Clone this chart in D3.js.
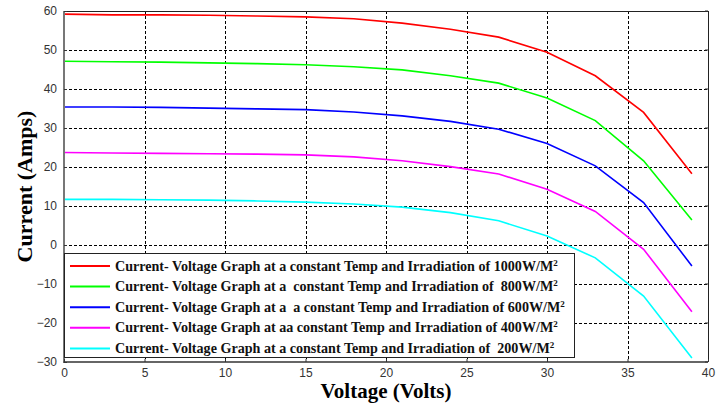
<!DOCTYPE html>
<html>
<head>
<meta charset="utf-8">
<script src="https://cdn.jsdelivr.net/npm/d3@7"></script>
<style>
  body { margin: 0; background: #fff; }
  svg { display: block; }
</style>
</head>
<body>
<div id="chart"></div>
<script>
(function() {
  const W = 728, H = 404
  const margin = {top: 11, right: 20, bottom: 42, left: 64}

  // voltage samples (V)
  const voltage = [0, 3, 6, 9, 12, 15, 18, 21, 24, 27, 30, 33, 36, 39]
  // current (A) per irradiation level
  const i1000 = [59.2, 59.0, 59.0, 58.9, 58.7, 58.5, 58.0, 56.9, 55.3, 53.3, 49.4, 43.4, 34.0, 18.3]
  const i800  = [47.1, 47.0, 46.9, 46.7, 46.5, 46.2, 45.7, 44.9, 43.4, 41.5, 37.7, 31.9, 21.6, 6.4]
  const i600  = [35.4, 35.4, 35.3, 35.1, 34.9, 34.7, 34.1, 33.1, 31.7, 29.7, 26.0, 20.3, 10.9, -5.4]
  const i400  = [23.7, 23.6, 23.5, 23.4, 23.3, 23.1, 22.6, 21.6, 20.1, 18.2, 14.3, 8.6, -1.1, -17.1]
  const i200  = [11.7, 11.7, 11.6, 11.5, 11.3, 11.0, 10.5, 9.7, 8.3, 6.2, 2.3, -3.3, -13.1, -29.0]

  const seriesColors = ["#ff0000", "#00ff00", "#0000ff", "#ff00ff", "#00ffff"]
  const legendLabels = [
    "Current- Voltage Graph at a constant Temp and Irradiation of 1000W/M",
    "Current- Voltage Graph at a  constant Temp and Irradiation of  800W/M",
    "Current- Voltage Graph at a  a constant Temp and Irradiation of 600W/M",
    "Current- Voltage Graph at aa constant Temp and Irradiation of 400W/M",
    "Current- Voltage Graph at a constant Temp and Irradiation of  200W/M"
  ]
  const xTicks = [0, 5, 10, 15, 20, 25, 30, 35, 40]
  const yTicks = [-30, -20, -10, 0, 10, 20, 30, 40, 50, 60]

  const series = [i1000, i800, i600, i400, i200]

  const x = d3.scaleLinear().domain([0, 40]).range([margin.left, W - margin.right])
  const y = d3.scaleLinear().domain([-30, 60]).range([H - margin.bottom, margin.top])

  const svg = d3.select("#chart").append("svg")
      .attr("width", W)
      .attr("height", H)

  // dashed grid
  const grid = svg.append("g")
      .attr("stroke", "#000")
      .attr("stroke-width", 1)
      .attr("stroke-dasharray", "3,2")
  grid.selectAll("line.v")
    .data(xTicks.slice(1, -1))
    .enter().append("line")
      .attr("x1", d => Math.round(x(d)) + 0.5).attr("x2", d => Math.round(x(d)) + 0.5)
      .attr("y1", y(60)).attr("y2", y(-30))
  grid.selectAll("line.h")
    .data(yTicks.slice(1, -1))
    .enter().append("line")
      .attr("y1", d => Math.round(y(d)) + 0.5).attr("y2", d => Math.round(y(d)) + 0.5)
      .attr("x1", x(0)).attr("x2", x(40))

  // curves
  const line = d3.line()
      .x((d, i) => x(voltage[i]))
      .y(d => y(d))
  svg.append("g")
      .attr("fill", "none")
      .attr("stroke-width", 1.6)
    .selectAll("path")
    .data(series)
    .enter().append("path")
      .attr("stroke", (d, i) => seriesColors[i])
      .attr("d", line)

  // frame: top/right thin black, left/bottom thick grey
  svg.append("line")
      .attr("x1", x(0)).attr("x2", x(40))
      .attr("y1", y(60) + 0.5).attr("y2", y(60) + 0.5)
      .attr("stroke", "#222")
  svg.append("line")
      .attr("x1", x(40) + 0.5).attr("x2", x(40) + 0.5)
      .attr("y1", y(60)).attr("y2", y(-30))
      .attr("stroke", "#222")
  svg.append("line")
      .attr("x1", x(0)).attr("x2", x(0))
      .attr("y1", y(60)).attr("y2", y(-30) + 1)
      .attr("stroke", "#777").attr("stroke-width", 2)
  svg.append("line")
      .attr("x1", x(0) - 1).attr("x2", x(40))
      .attr("y1", y(-30)).attr("y2", y(-30))
      .attr("stroke", "#666").attr("stroke-width", 2)

  // axes (labels only, inward ticks)
  const xAxis = d3.axisBottom(x).tickValues(xTicks).tickSizeInner(-3).tickSizeOuter(0).tickPadding(6)
  const yAxis = d3.axisLeft(y).tickValues(yTicks).tickSizeInner(-3).tickSizeOuter(0).tickPadding(7)
  const gx = svg.append("g").attr("transform", `translate(0,${y(-30)})`).call(xAxis)
  const gy = svg.append("g").attr("transform", `translate(${x(0)},0)`).call(yAxis)
  ;[gx, gy].forEach(g => {
    g.select(".domain").remove()
    g.selectAll("line").attr("stroke", "#333")
    g.selectAll("text")
        .attr("font-family", "Liberation Sans, Arial, sans-serif")
        .attr("font-size", 12)
        .attr("fill", "#333")
  })
  // right-side inward ticks
  svg.append("g").selectAll("line")
    .data(yTicks)
    .enter().append("line")
      .attr("x1", x(40) - 3).attr("x2", x(40))
      .attr("y1", d => y(d)).attr("y2", d => y(d))
      .attr("stroke", "#333")

  // legend
  const lg = svg.append("g")
  const lx0 = x(0), ly0 = 253, lw = 510, lh = 104
  lg.append("rect")
      .attr("x", lx0 + 0.5).attr("y", ly0 + 0.5)
      .attr("width", lw).attr("height", lh)
      .attr("fill", "#fff").attr("stroke", "#222")
  const row = lg.selectAll("g")
    .data(legendLabels)
    .enter().append("g")
      .attr("transform", (d, i) => `translate(${lx0}, ${ly0 + 13 + i * 20.6})`)
  row.append("line")
      .attr("x1", 6).attr("x2", 46)
      .attr("stroke", (d, i) => seriesColors[i])
      .attr("stroke-width", 2)
  const txt = row.append("text")
      .attr("x", 51).attr("y", 4.5)
      .attr("font-family", "Liberation Serif, Times New Roman, serif")
      .attr("font-weight", "bold")
      .attr("font-size", 14.1)
      .attr("fill", "#111")
      .style("white-space", "pre")
  txt.append("tspan").text(d => d)
  txt.append("tspan")
      .attr("dy", -5)
      .attr("font-size", 9)
      .text("2")

  // axis titles
  svg.append("text")
      .attr("x", (x(0) + x(40)) / 2)
      .attr("y", 398)
      .attr("text-anchor", "middle")
      .attr("font-family", "Liberation Serif, Times New Roman, serif")
      .attr("font-weight", "bold")
      .attr("font-size", 21)
      .text("Voltage (Volts)")
  svg.append("text")
      .attr("transform", `translate(32, ${(y(60) + y(-30)) / 2}) rotate(-90)`)
      .attr("text-anchor", "middle")
      .attr("font-family", "Liberation Serif, Times New Roman, serif")
      .attr("font-weight", "bold")
      .attr("font-size", 22)
      .text("Current (Amps)")
})()
</script>
</body>
</html>
